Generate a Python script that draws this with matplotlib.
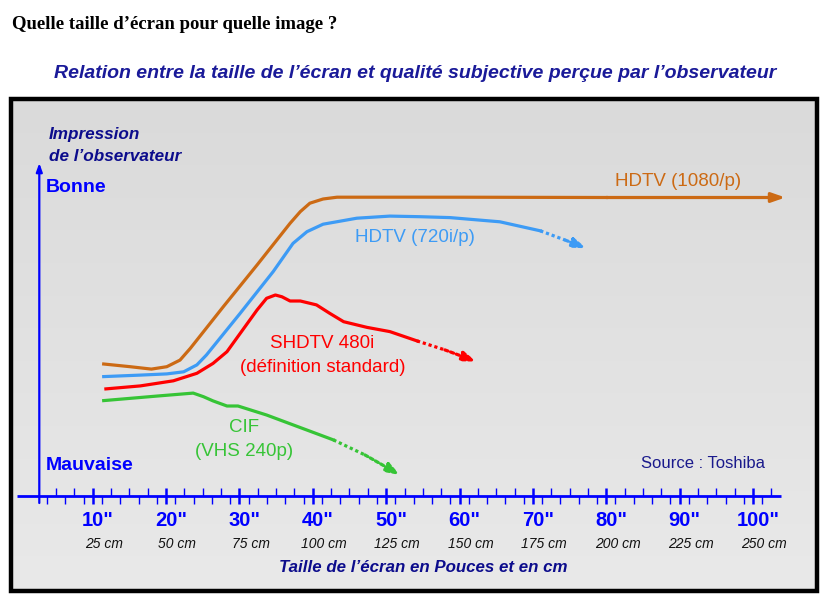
import matplotlib
matplotlib.use('Agg')
import matplotlib.pyplot as plt
import numpy as np
from matplotlib.patches import Rectangle

# courbes (taille en pouces, impression de l'observateur)
hd1080_x = [11.5, 15.1, 18.0, 20.1, 21.9, 23.3, 27.8, 32.4, 36.9, 38.3, 39.6, 41.4, 43.3, 60.0, 80.0, 104.4]
hd1080_y = [44.0, 43.1, 42.3, 43.1, 45.3, 49.2, 63.1, 77.0, 90.9, 94.8, 97.6, 99.0, 99.6, 99.6, 99.5, 99.5]

hd720_x = [11.5, 16.5, 20.1, 22.4, 24.2, 25.5, 30.1, 34.6, 37.3, 39.2, 41.4, 46.0, 50.5, 54.6, 58.7, 65.5, 71.0]
hd720_y = [39.8, 40.3, 40.7, 41.4, 43.7, 47.0, 60.9, 74.8, 84.2, 88.1, 90.6, 92.6, 93.3, 93.1, 92.8, 91.4, 88.4]
hd720_dot_x = [71.0, 74.4, 77.3]
hd720_dot_y = [88.4, 85.3, 82.6]

sd_x = [11.8, 16.5, 21.0, 24.2, 26.4, 28.3, 30.1, 32.4, 33.7, 34.9, 35.8, 36.9, 38.3, 40.5, 42.3, 44.2, 47.4, 50.5, 54.2]
sd_y = [35.7, 36.7, 38.4, 40.9, 44.2, 48.1, 54.2, 62.0, 65.9, 67.0, 66.4, 65.0, 65.0, 63.7, 60.9, 58.1, 56.2, 54.8, 51.7]
sd_dot_x = [54.2, 58.0, 62.3]
sd_dot_y = [51.7, 48.7, 44.8]

cif_x = [11.5, 18.7, 23.7, 25.1, 26.4, 28.3, 29.8, 33.7, 42.8]
cif_y = [31.8, 33.3, 34.3, 33.1, 31.7, 30.0, 30.0, 27.0, 18.7]
cif_dot_x = [42.8, 47.1, 51.9]
cif_dot_y = [18.7, 13.7, 7.0]

pouces = [10, 20, 30, 40, 50, 60, 70, 80, 90, 100]
cm = [25, 50, 75, 100, 125, 150, 175, 200, 225, 250]

W, H = 827, 598
ORANGE = '#cc6a14'
BLEU_C = '#3d9bf5'
ROUGE = '#ff0000'
VERT = '#36c436'
BLEU = '#0000ff'
MARINE = '#0c0c8c'
SANS = ['Liberation Sans', 'DejaVu Sans']

fig = plt.figure(figsize=(W / 100, H / 100), dpi=100)
fig.patch.set_facecolor('white')

# pixel -> donnees
def dx(px):
    return 10 + (px - 92.7) / 7.337

def dy(py):
    return (496 - py) / 3

def fx(px):
    return px / W

def fy(py):
    return 1 - py / H

ax = fig.add_axes([0, 0, 1, 1])
ax.set_xlim(dx(0), dx(W))
ax.set_ylim(dy(H), dy(0))
ax.axis('off')

# fond degrade + cadre
grad = np.linspace(0, 1, 256).reshape(-1, 1)
ax.imshow(grad, cmap=matplotlib.colors.LinearSegmentedColormap.from_list('g', ['#dadada', '#e9e9e9']),
          extent=[dx(12), dx(816), dy(590), dy(99)], aspect='auto', origin='upper', zorder=0)
fig.patches.append(Rectangle((fx(11), fy(591)), fx(806), 492 / H, transform=fig.transFigure,
                             fill=False, edgecolor='black', linewidth=3.2, zorder=1))

# axes dessines
ax.plot([dx(17), dx(781)], [0, 0], color=BLEU, lw=2.0, zorder=3, solid_capstyle='butt')
ax.annotate('', xy=(dx(39.3), dy(163)), xytext=(dx(39.3), dy(503)),
            arrowprops=dict(arrowstyle='-|>,head_length=0.5,head_width=0.18', color=BLEU, lw=1.6,
                            shrinkA=0, shrinkB=0), zorder=3)
graduations = np.arange(3.75, 102.6, 1.25)
for t in graduations:
    k = round(t / 1.25)
    if k % 8 == 0:
        ax.vlines(t, -2.7, 2.7, color=BLEU, lw=1.8, zorder=3)
    elif k % 2 == 0:
        ax.vlines(t, 0, 2.7, color=BLEU, lw=1.0, zorder=3)
    else:
        ax.vlines(t, -2.6, 0, color=BLEU, lw=1.0, zorder=3)

for p, c in zip(pouces, cm):
    ax.annotate(f'{p}"', (p, 0), xytext=(3.6, -17.3), textcoords='offset points',
                ha='center', va='center', color=BLEU, fontsize=14.5, fontweight='bold', family=SANS)
    ax.annotate(f'{c} cm', (p, 0), xytext=(8.0, -34.6), textcoords='offset points',
                ha='center', va='center', color='#111111', fontsize=10, fontstyle='italic', family=SANS)

# courbes
lw = 2.3
ax.plot(hd1080_x[:-1], hd1080_y[:-1], color=ORANGE, lw=lw, solid_joinstyle='round', zorder=4)
ax.annotate('', xy=(hd1080_x[-1], hd1080_y[-1]), xytext=(hd1080_x[-2], hd1080_y[-2]),
            arrowprops=dict(arrowstyle='-|>,head_length=0.8,head_width=0.28', color=ORANGE, lw=lw,
                            shrinkA=0, shrinkB=0), zorder=4)

for xs, ys, dxs, dys, col in [(hd720_x, hd720_y, hd720_dot_x, hd720_dot_y, BLEU_C),
                              (sd_x, sd_y, sd_dot_x, sd_dot_y, ROUGE),
                              (cif_x, cif_y, cif_dot_x, cif_dot_y, VERT)]:
    ax.plot(xs, ys, color=col, lw=lw, solid_joinstyle='round', zorder=4)
    ax.plot(dxs[:-1], dys[:-1], color=col, lw=lw, linestyle=(0, (1, 0.9)), zorder=4)
    ax.annotate('', xy=(dxs[-1], dys[-1]), xytext=(dxs[-2], dys[-2]),
                arrowprops=dict(arrowstyle='-|>,head_length=0.8,head_width=0.28', color=col, lw=lw,
                                linestyle=(0, (1, 0.9)), shrinkA=0, shrinkB=0), zorder=4)

# textes
fig.text(fx(12), fy(29), 'Quelle taille d\u2019écran pour quelle image ?', fontsize=13.5, fontweight='bold',
         family=['Liberation Serif', 'DejaVu Serif'], va='baseline', ha='left')
fig.text(fx(415), fy(73), 'Relation entre la taille de l\u2019écran et qualité subjective perçue par l\u2019observateur',
         fontsize=14, fontweight='bold', fontstyle='italic', color='#1a1a99', family=SANS, ha='center', va='center')
fig.text(fx(49), fy(135), 'Impression', fontsize=12.3, fontweight='bold', fontstyle='italic', color=MARINE,
         family=SANS, va='center')
fig.text(fx(49), fy(156), 'de l\u2019observateur', fontsize=12.3, fontweight='bold', fontstyle='italic', color=MARINE,
         family=SANS, va='center')
fig.text(fx(46), fy(187), 'Bonne', fontsize=14, fontweight='bold', color=BLEU, family=SANS, va='center')
fig.text(fx(46), fy(465), 'Mauvaise', fontsize=14, fontweight='bold', color=BLEU, family=SANS, va='center')
fig.text(fx(423), fy(568), 'Taille de l\u2019écran en Pouces et en cm', fontsize=12.2, fontweight='bold',
         fontstyle='italic', color=MARINE, family=SANS, ha='center', va='center')
fig.text(fx(703), fy(464), 'Source : Toshiba', fontsize=12, color='#1a1a8c', family=SANS, ha='center', va='center')

fig.text(fx(678), fy(182), 'HDTV (1080/p)', fontsize=13.5, color=ORANGE, family=SANS, ha='center', va='center')
fig.text(fx(415), fy(237), 'HDTV (720i/p)', fontsize=13.5, color=BLEU_C, family=SANS, ha='center', va='center')
fig.text(fx(322), fy(343), 'SHDTV 480i', fontsize=13.5, color=ROUGE, family=SANS, ha='center', va='center')
fig.text(fx(323), fy(368), '(définition standard)', fontsize=13.5, color=ROUGE, family=SANS, ha='center', va='center')
fig.text(fx(244), fy(427), 'CIF', fontsize=13.5, color=VERT, family=SANS, ha='center', va='center')
fig.text(fx(244), fy(451), '(VHS 240p)', fontsize=13.5, color=VERT, family=SANS, ha='center', va='center')

fig.savefig('out.png', dpi=100)
